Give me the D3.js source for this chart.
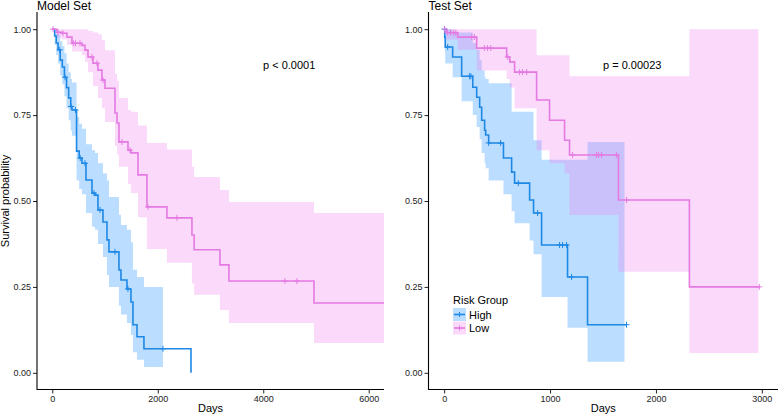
<!DOCTYPE html>
<html><head><meta charset="utf-8">
<script src="https://cdn.jsdelivr.net/npm/d3@7"></script>
<style>body{margin:0;background:#fff}svg{display:block}text{font-family:"Liberation Sans",Arial,Helvetica,sans-serif}</style>
</head><body><svg id="c" width="778" height="416"></svg>
<script>
// ---------- DATA ----------
const modelHighTime  = [0, 45, 75, 110, 150, 190, 230, 270, 310, 350, 373, 460, 510, 563, 639, 753, 810, 866, 961, 1037, 1075, 1264, 1302, 1416, 1492, 1530, 1606, 1738, 2630];
const modelHighSurv  = [1, 0.98, 0.96, 0.94, 0.91, 0.89, 0.86, 0.83, 0.80, 0.775, 0.765, 0.645, 0.625, 0.61, 0.561, 0.523, 0.517, 0.474, 0.439, 0.387, 0.352, 0.299, 0.27, 0.244, 0.206, 0.14, 0.105, 0.07, 0];
const modelHighLower = [1, 0.955, 0.925, 0.90, 0.865, 0.84, 0.805, 0.77, 0.735, 0.705, 0.69, 0.56, 0.535, 0.52, 0.465, 0.425, 0.416, 0.375, 0.337, 0.285, 0.25, 0.195, 0.17, 0.145, 0.11, 0.06, 0.038, 0.017, null];
const modelHighUpper = [1, 1, 1, 0.985, 0.965, 0.95, 0.93, 0.90, 0.875, 0.855, 0.845, 0.745, 0.725, 0.71, 0.665, 0.648, 0.64, 0.61, 0.58, 0.56, 0.512, 0.46, 0.43, 0.416, 0.38, 0.30, 0.279, 0.25, null];
const modelHighCensor = [140, 241, 355, 440, 530, 620, 791, 904, 1189, 1435, 2098];
const modelHighEnd = 2630, modelHighBandEnd = 2098;

const modelLowTime  = [0, 89, 184, 279, 373, 563, 620, 677, 772, 866, 942, 999, 1189, 1227, 1264, 1435, 1492, 1625, 1795, 2174, 2648, 2690, 3179, 3350, 4962];
const modelLowSurv  = [1, 0.991, 0.988, 0.977, 0.959, 0.953, 0.939, 0.919, 0.901, 0.881, 0.852, 0.828, 0.756, 0.727, 0.672, 0.648, 0.64, 0.576, 0.483, 0.451, 0.401, 0.358, 0.314, 0.267, 0.203];
const modelLowLower = [1, 0.975, 0.97, 0.955, 0.935, 0.925, 0.905, 0.875, 0.835, 0.80, 0.77, 0.73, 0.66, 0.635, 0.60, 0.55, 0.523, 0.453, 0.36, 0.32, 0.26, 0.227, 0.183, 0.145, 0.087];
const modelLowUpper = [1, 1, 1, 1, 1, 1, 1, 0.995, 0.99, 0.985, 0.968, 0.939, 0.87, 0.85, 0.80, 0.765, 0.76, 0.72, 0.669, 0.65, 0.60, 0.57, 0.532, 0.497, 0.465];
const modelLowCensor = [14, 108, 203, 400, 440, 525, 753, 848, 961, 1321, 1473, 1814, 2363, 4412, 4640];
const modelLowEnd = 6400, modelLowBandEnd = 6400;

const testHighTime  = [0, 5, 10, 80, 165, 270, 307, 335, 354, 382, 392, 420, 560, 637, 665, 807, 844, 920, 1165, 1354];
const testHighSurv  = [1, 0.977, 0.948, 0.919, 0.863, 0.831, 0.802, 0.773, 0.735, 0.706, 0.692, 0.669, 0.625, 0.584, 0.552, 0.503, 0.465, 0.372, 0.279, 0.14];
const testHighLower = [1, 0.935, 0.90, 0.86, 0.79, 0.75, 0.715, 0.68, 0.64, 0.61, 0.595, 0.56, 0.52, 0.47, 0.435, 0.385, 0.345, 0.221, 0.131, 0.032];
const testHighUpper = [1, 1, 1, 0.99, 0.99, 0.96, 0.94, 0.91, 0.88, 0.86, 0.855, 0.843, 0.843, 0.76, 0.76, 0.76, 0.677, 0.62, 0.62, 0.672];
const testHighCensor = [3, 33, 240, 252, 420, 533, 700, 882, 1090, 1118, 1156, 1203, 1722];
const testHighEnd = 1722, testHighBandEnd = 1703;

const testLowTime  = [0, 20, 127, 307, 590, 620, 665, 873, 995, 1137, 1184, 1646, 2316];
const testLowSurv  = [1, 0.99, 0.977, 0.945, 0.919, 0.905, 0.875, 0.794, 0.735, 0.677, 0.634, 0.503, 0.25];
const testLowLower = [1, 0.97, 0.94, 0.88, 0.855, 0.83, 0.77, 0.648, 0.61, 0.58, 0.459, 0.294, 0.058];
const testLowUpper = [1, 1, 1, 1, 1, 1, 1, 0.924, 0.924, 0.924, 0.863, 0.863, 1];
const testLowCensor = [5, 30, 60, 90, 110, 260, 285, 380, 410, 440, 600, 712, 740, 780, 1212, 1439, 1458, 1486, 1627, 1722, 2976];
const testLowEnd = 2976, testLowBandEnd = 2967;

const yTicks = [0, 0.25, 0.5, 0.75, 1];
const modelXTicks = [0, 2000, 4000, 6000];
const testXTicks = [0, 1000, 2000, 3000];
const groupNames = ["High", "Low"];
const pValues = ["p < 0.0001", "p = 0.00023"];
const titles = ["Model Set", "Test Set"];

// ---------- STYLE ----------
const colLine = {High: "#1E88E5", Low: "#E47AE2"};
const colFill = {High: "#1E90FF", Low: "#EE82EE"};
const fillOp = 0.3;

const svg = d3.select("#c");
const y = d3.scaleLinear().domain([-0.05, 1.05]).range([390, 12]);

function mk(time, surv, lower, upper, censor, end, bandEnd) {
  return {time, surv, lower, upper, censor, end, bandEnd};
}
const panels = [
  {title: titles[0], p: pValues[0], pX: 263, left: 37, right: 384,
   x: d3.scaleLinear().domain([-290, 6290]).range([37, 384]), ticks: modelXTicks,
   curves: {High: mk(modelHighTime, modelHighSurv, modelHighLower, modelHighUpper, modelHighCensor, modelHighEnd, modelHighBandEnd),
            Low: mk(modelLowTime, modelLowSurv, modelLowLower, modelLowUpper, modelLowCensor, modelLowEnd, modelLowBandEnd)}},
  {title: titles[1], p: pValues[1], pX: 603, left: 428.5, right: 778,
   x: d3.scaleLinear().domain([-150, 3150]).range([428.3, 777.7]), ticks: testXTicks,
   curves: {High: mk(testHighTime, testHighSurv, testHighLower, testHighUpper, testHighCensor, testHighEnd, testHighBandEnd),
            Low: mk(testLowTime, testLowSurv, testLowLower, testLowUpper, testLowCensor, testLowEnd, testLowBandEnd)}}
];

function survAt(c, t) {
  let s = 1;
  for (let i = 0; i < c.time.length; i++) if (c.time[i] <= t) s = c.surv[i];
  return s;
}

panels.forEach((P, pi) => {
  const g = svg.append("g");
  const clipId = "clip" + pi;
  svg.append("clipPath").attr("id", clipId).append("rect")
    .attr("x", P.left).attr("y", 12).attr("width", P.right - P.left).attr("height", 378);
  const plot = g.append("g").attr("clip-path", `url(#${clipId})`);

  // bands
  groupNames.forEach(k => {
    const c = P.curves[k];
    const pts = [];
    c.time.forEach((t, i) => { if (c.lower[i] !== null && t <= c.bandEnd) pts.push({t, lo: c.lower[i], hi: c.upper[i]}); });
    const last = pts[pts.length - 1];
    pts.push({t: c.bandEnd, lo: last.lo, hi: last.hi});
    const area = d3.area().curve(d3.curveStepAfter)
      .x(d => P.x(d.t)).y0(d => y(d.lo)).y1(d => y(d.hi));
    plot.append("path").attr("d", area(pts)).attr("fill", colFill[k]).attr("fill-opacity", fillOp);
  });
  // lines
  groupNames.forEach(k => {
    const c = P.curves[k];
    const pts = c.time.map((t, i) => ({t, s: c.surv[i]}));
    pts.push({t: c.end, s: c.surv[c.surv.length - 1]});
    const line = d3.line().curve(d3.curveStepAfter).x(d => P.x(d.t)).y(d => y(d.s));
    plot.append("path").attr("d", line(pts)).attr("fill", "none")
      .attr("stroke", colLine[k]).attr("stroke-width", 1.6);
  });
  // censor marks
  groupNames.forEach(k => {
    const c = P.curves[k];
    c.censor.forEach(t => {
      const cx = P.x(t), cy = y(survAt(c, t));
      plot.append("path").attr("d", `M${cx - 3},${cy}H${cx + 3}M${cx},${cy - 3}V${cy + 3}`)
        .attr("stroke", colLine[k]).attr("stroke-width", 1);
    });
  });

  // axes
  const ya = g.append("g").attr("transform", `translate(${P.left},0)`)
    .call(d3.axisLeft(y).tickValues(yTicks).tickFormat(d3.format(".2f")).tickSize(4).tickPadding(2));
  const xa = g.append("g").attr("transform", `translate(0,389.5)`)
    .call(d3.axisBottom(P.x).tickValues(P.ticks).tickFormat(d3.format("d")).tickSize(4).tickPadding(2));
  [ya, xa].forEach(a => {
    a.select(".domain").remove();
    a.selectAll("line").attr("stroke", "#222");
    a.selectAll("text").attr("font-size", 9).attr("fill", "#222")
      .attr("font-family", '"Liberation Sans",Arial,sans-serif');
  });
  g.append("line").attr("x1", P.left).attr("x2", P.left).attr("y1", 12).attr("y2", 390)
    .attr("stroke", "#000").attr("stroke-width", 1.1);
  g.append("line").attr("x1", P.left).attr("x2", P.right).attr("y1", 389.5).attr("y2", 389.5)
    .attr("stroke", "#000").attr("stroke-width", 1.1);

  g.append("text").attr("x", P.left).attr("y", 9.5).attr("font-size", 12).text(P.title);
  g.append("text").attr("x", P.pX).attr("y", 69).attr("font-size", 11).text(P.p);
  g.append("text").attr("x", (P.left + P.right) / 2).attr("y", 412).attr("text-anchor", "middle")
    .attr("font-size", 11).text("Days");
});

svg.append("text").attr("transform", "translate(9,201) rotate(-90)").attr("text-anchor", "middle")
  .attr("font-size", 11).text("Survival probability");

// legend
const lg = svg.append("g");
lg.append("text").attr("x", 453).attr("y", 304).attr("font-size", 11).text("Risk Group");
groupNames.forEach((k, i) => {
  const ky = 308 + i * 13.5;
  lg.append("rect").attr("x", 453).attr("y", ky).attr("width", 13).attr("height", 13)
    .attr("fill", colFill[k]).attr("fill-opacity", fillOp);
  lg.append("line").attr("x1", 454).attr("x2", 465).attr("y1", ky + 6.5).attr("y2", ky + 6.5)
    .attr("stroke", colLine[k]).attr("stroke-width", 1.6);
  lg.append("path").attr("d", `M${459.5 - 2.5},${ky + 6.5}H${459.5 + 2.5}M459.5,${ky + 4}V${ky + 9}`)
    .attr("stroke", colLine[k]).attr("stroke-width", 1);
  lg.append("text").attr("x", 469).attr("y", ky + 10.5).attr("font-size", 11).text(k);
});
</script></body></html>
